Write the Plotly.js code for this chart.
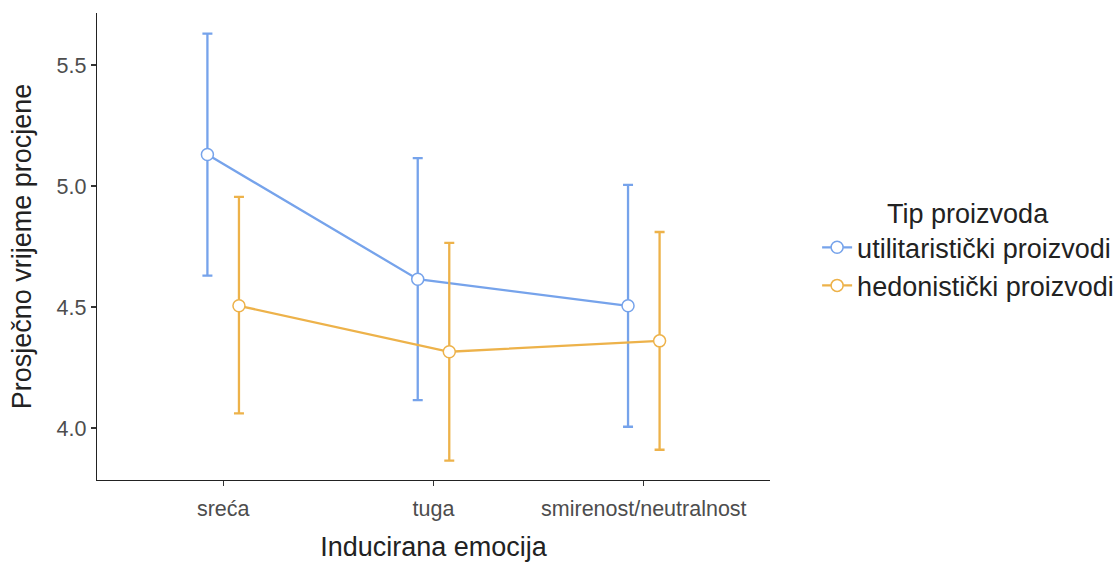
<!DOCTYPE html>
<html>
<head>
<meta charset="utf-8">
<script src="https://cdn.plot.ly/plotly-3.0.1.min.js"></script>
<style>html,body{margin:0;padding:0;background:#fff;}#chart{width:1120px;height:562px;}</style>
</head>
<body>
<div id="chart"></div>
<script>
const categories = ["sreća", "tuga", "smirenost/neutralnost"];
const seriesNames = ["utilitaristički proizvodi", "hedonistički proizvodi"];
const utilMean = [5.13, 4.615, 4.505];
const utilUpper = [5.63, 5.115, 5.005];
const utilLower = [4.63, 4.115, 4.005];
const hedMean = [4.505, 4.315, 4.36];
const hedUpper = [4.955, 4.765, 4.81];
const hedLower = [4.06, 3.865, 3.91];
const yTicks = [4.0, 4.5, 5.0, 5.5];

const colors = ["#76A3EB", "#EDB24A"];
const dodge = 0.075;

function mkTrace(name, mean, up, lo, color, off) {
  return {
    type: "scatter",
    mode: "lines+markers",
    name: name,
    x: categories.map((c, i) => i + off),
    y: mean,
    line: {color: color, width: 2.3},
    marker: {size: 12, color: "#ffffff", line: {color: color, width: 1.5}},
    error_y: {
      type: "data", symmetric: false,
      array: mean.map((m, i) => up[i] - m),
      arrayminus: mean.map((m, i) => m - lo[i]),
      color: color, thickness: 2.3, width: 5
    },
    hoverinfo: "skip"
  };
}

const data = [
  mkTrace(seriesNames[0], utilMean, utilUpper, utilLower, colors[0], -dodge),
  mkTrace(seriesNames[1], hedMean, hedUpper, hedLower, colors[1], dodge)
];

const fontFam = "Liberation Sans, Arial, sans-serif";
const layout = {
  width: 1120, height: 562,
  margin: {l: 97, r: 350, t: 13, b: 82, autoexpand: false},
  paper_bgcolor: "#ffffff", plot_bgcolor: "#ffffff",
  font: {family: fontFam, color: "#000"},
  showlegend: true,
  xaxis: {
    range: [-0.6, 2.6],
    tickvals: categories.map((c, i) => i),
    ticktext: categories,
    showgrid: false, zeroline: false,
    showline: true, linecolor: "#222", linewidth: 1.3,
    ticks: "outside", ticklen: 5, tickcolor: "#333", tickwidth: 1.3,
    ticklabelstandoff: 4,
    tickfont: {size: 21.5, color: "#4d4d4d", family: fontFam},
    title: {text: "Inducirana emocija", font: {size: 27, color: "#222"}, standoff: 18}
  },
  yaxis: {
    range: [3.785, 5.715],
    tickvals: yTicks,
    ticktext: yTicks.map(v => v.toFixed(1)),
    showgrid: false, zeroline: false,
    showline: true, linecolor: "#222", linewidth: 1.3,
    ticks: "outside", ticklen: 5, tickcolor: "#333", tickwidth: 1.3,
    tickfont: {size: 21.5, color: "#4d4d4d", family: fontFam},
    title: {text: "Prosječno vrijeme procjene", font: {size: 27, color: "#222"}, standoff: 17}
  },
  legend: {
    x: 1.07, xanchor: "left", y: 0.625, yanchor: "top",
    font: {size: 27, color: "#222"},
    title: {text: "Tip proizvoda", font: {size: 27, color: "#222"}, side: "top center"},
    bgcolor: "rgba(0,0,0,0)",
    itemwidth: 30,
    tracegroupgap: 0
  }
};

Plotly.newPlot("chart", data, layout, {displayModeBar: false, staticPlot: true});
</script>
</body>
</html>
